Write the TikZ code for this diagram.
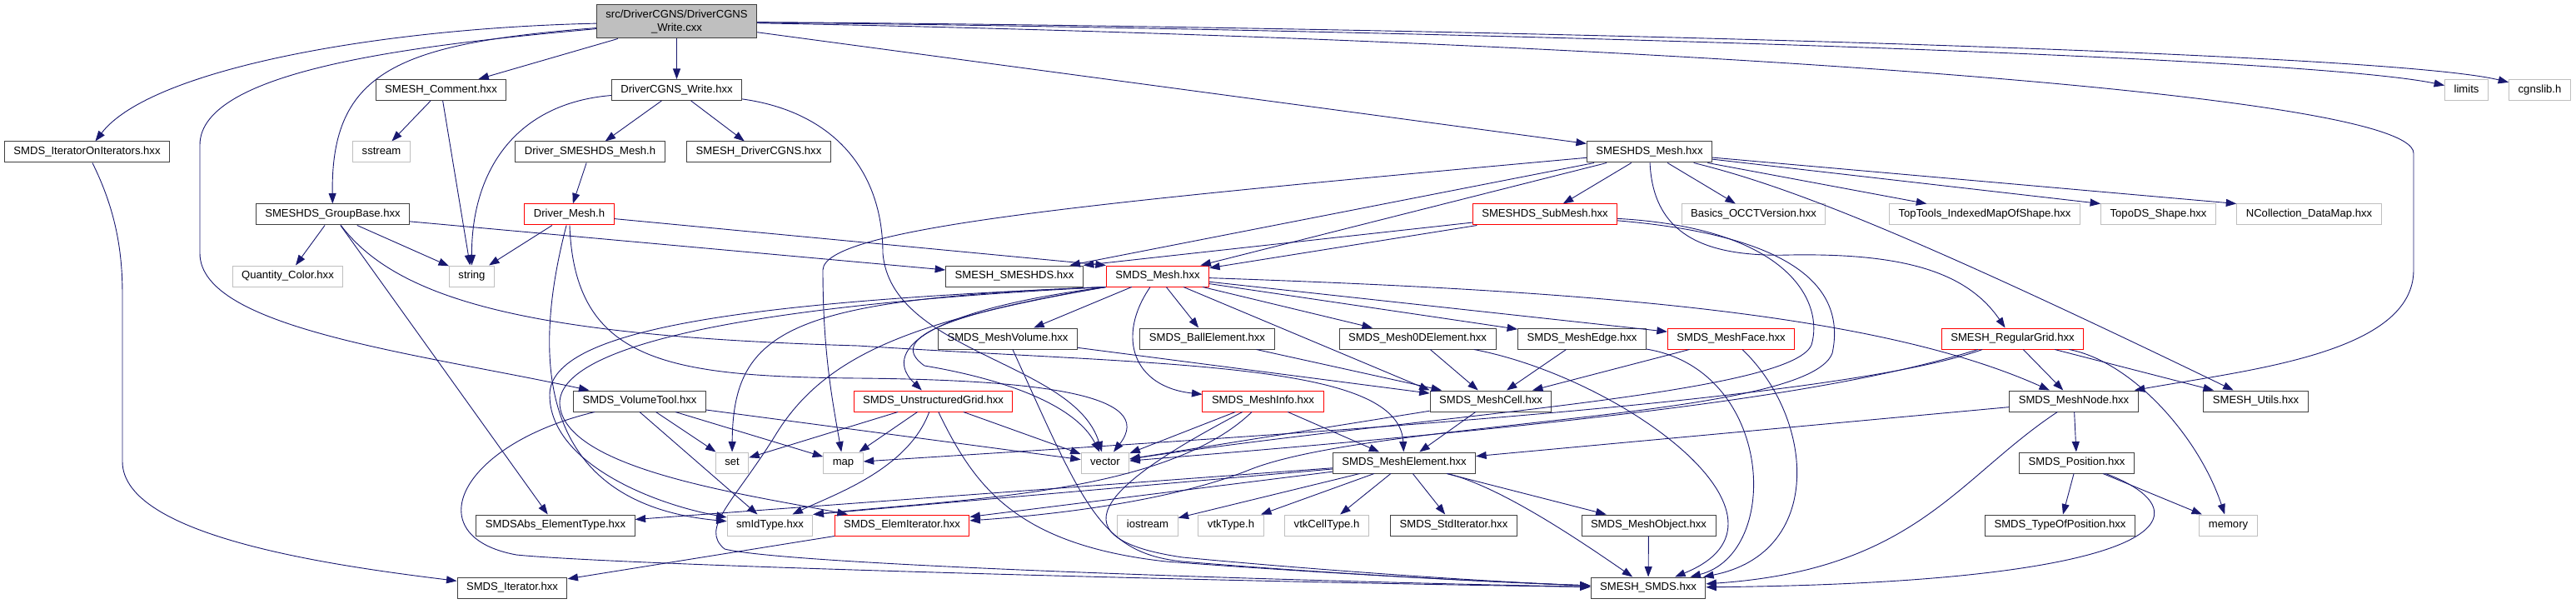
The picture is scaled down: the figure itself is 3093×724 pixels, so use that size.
\documentclass[tikz,border=0pt]{standalone}
\usepackage{fontspec}
\setmainfont{Liberation Sans}
\usetikzlibrary{arrows.meta}
\definecolor{linkblue}{HTML}{191970}
\definecolor{extgray}{HTML}{BFBFBF}
\definecolor{boxgray}{HTML}{404040}
\begin{document}
\begin{tikzpicture}[x=1pt,y=1pt]
      \tikzstyle{file}=[draw=boxgray,fill=white,line width=1pt,inner xsep=11pt,inner ysep=0pt,minimum height=25pt,text height=9.5pt,text depth=2.6pt,font=\fontsize{13.1pt}{15.7pt}\selectfont]
      \tikzstyle{sysfile}=[file,draw=extgray]
      \tikzstyle{redfile}=[file,draw=red]
      \tikzstyle{rootfile}=[draw=boxgray,fill=extgray,line width=1pt,inner xsep=11pt,inner ysep=0pt,minimum height=40pt,align=center,font=\fontsize{13.1pt}{15.7pt}\selectfont]
      \tikzstyle{edge}=[draw=linkblue,line width=0.9pt,-{Triangle[length=12.5pt,width=9pt]}]
      \useasboundingbox (0,0) rectangle (3093,724);
      \node[rootfile] (Root) at (812.5,698) {src/DriverCGNS/DriverCGNS\\\_Write.cxx};
      \node[file] (Comment) at (529.5,616) {SMESH\_Comment.hxx};
      \node[file] (Write) at (812.5,616) {DriverCGNS\_Write.hxx};
      \node[sysfile] (Limits) at (2961.5,616) {limits};
      \node[sysfile] (Cgns) at (3049.5,616) {cgnslib.h};
      \node[file] (IterIter) at (104.5,541.5) {SMDS\_IteratorOnIterators.hxx};
      \node[sysfile] (Sstream) at (458,541.5) {sstream};
      \node[file] (DrvSmeshds) at (708.5,541.5) {Driver\_SMESHDS\_Mesh.h};
      \node[file] (DrvCgns) at (911,541.5) {SMESH\_DriverCGNS.hxx};
      \node[file] (DsMesh) at (1980.5,541.5) {SMESHDS\_Mesh.hxx};
      \node[file] (GroupBase) at (399.5,466.5) {SMESHDS\_GroupBase.hxx};
      \node[redfile] (DrvMesh) at (683.5,466.5) {Driver\_Mesh.h};
      \node[redfile] (SubMesh) at (1855,466.5) {SMESHDS\_SubMesh.hxx};
      \node[sysfile] (Occt) at (2105.5,466.5) {Basics\_OCCTVersion.hxx};
      \node[sysfile] (TopTools) at (2383,466.5) {TopTools\_IndexedMapOfShape.hxx};
      \node[sysfile] (TopoDS) at (2591.5,466.5) {TopoDS\_Shape.hxx};
      \node[sysfile] (NColl) at (2772.5,466.5) {NCollection\_DataMap.hxx};
      \node[sysfile] (Quantity) at (345.5,392.5) {Quantity\_Color.hxx};
      \node[sysfile] (String) at (566.5,392.5) {string};
      \node[file] (SmeshDS) at (1218,392.5) {SMESH\_SMESHDS.hxx};
      \node[redfile] (SmdsMesh) at (1390,392.5) {SMDS\_Mesh.hxx};
      \node[file] (MeshVolume) at (1210,317.5) {SMDS\_MeshVolume.hxx};
      \node[file] (Ball) at (1449.5,317.5) {SMDS\_BallElement.hxx};
      \node[file] (Mesh0D) at (1702,317.5) {SMDS\_Mesh0DElement.hxx};
      \node[file] (MeshEdge) at (1899.5,317.5) {SMDS\_MeshEdge.hxx};
      \node[redfile] (MeshFace) at (2078.5,317.5) {SMDS\_MeshFace.hxx};
      \node[redfile] (RegGrid) at (2416.5,317.5) {SMESH\_RegularGrid.hxx};
      \node[file] (VolTool) at (768,242.5) {SMDS\_VolumeTool.hxx};
      \node[redfile] (UGrid) at (1120.5,242.5) {SMDS\_UnstructuredGrid.hxx};
      \node[redfile] (MeshInfo) at (1516.5,242.5) {SMDS\_MeshInfo.hxx};
      \node[file] (MeshCell) at (1790,242.5) {SMDS\_MeshCell.hxx};
      \node[file] (MeshNode) at (2490,242.5) {SMDS\_MeshNode.hxx};
      \node[file] (Utils) at (2708.5,242.5) {SMESH\_Utils.hxx};
      \node[sysfile] (Set) at (879,168.5) {set};
      \node[sysfile] (Map) at (1012.5,168.5) {map};
      \node[sysfile] (Vector) at (1327,168.5) {vector};
      \node[file] (MeshElem) at (1686,168.5) {SMDS\_MeshElement.hxx};
      \node[file] (Position) at (2493.5,168.5) {SMDS\_Position.hxx};
      \node[file] (AbsType) at (667,93.5) {SMDSAbs\_ElementType.hxx};
      \node[sysfile] (IdType) at (924.5,93.5) {smIdType.hxx};
      \node[redfile] (ElemIter) at (1083,93.5) {SMDS\_ElemIterator.hxx};
      \node[sysfile] (Iostream) at (1378,93.5) {iostream};
      \node[sysfile] (VtkType) at (1478,93.5) {vtkType.h};
      \node[sysfile] (VtkCell) at (1593,93.5) {vtkCellType.h};
      \node[file] (StdIter) at (1745.5,93.5) {SMDS\_StdIterator.hxx};
      \node[file] (MeshObj) at (1979.5,93.5) {SMDS\_MeshObject.hxx};
      \node[file] (TypePos) at (2473.5,93.5) {SMDS\_TypeOfPosition.hxx};
      \node[sysfile] (Memory) at (2675.5,93.5) {memory};
      \node[file] (Iter) at (615,18.5) {SMDS\_Iterator.hxx};
      \node[file] (SmeshSmds) at (1979,18.5) {SMESH\_SMDS.hxx};
      % the .cxx file
      \path[edge] (Root) .. controls (450,690) and (180,640) .. (IterIter);
      \path[edge] (Root) .. controls (500,670) and (240,640) .. (240,550) -- (240,420) .. controls (240,330) and (500,300) .. (VolTool);
      \path[edge] (Root) .. controls (480,672) and (397,640) .. (GroupBase);
      \path[edge] (Root) -- (Comment);
      \path[edge] (Root) -- (Write);
      \path[edge] (Root) -- (DsMesh);
      \path[edge] (Root) .. controls (1600,690) and (2750,660) .. (Limits);
      \path[edge] (Root) .. controls (1600,693) and (2850,665) .. (Cgns);
      \path[edge] (Root) .. controls (1800,680) and (2898,620) .. (2898,540) -- (2898,400) .. controls (2898,300) and (2700,280) .. (MeshNode);
      % writer and drivers
      \path[edge] (Write) .. controls (620,600) and (566,520) .. (String);
      \path[edge] (Write) -- (DrvSmeshds);
      \path[edge] (Write) -- (DrvCgns);
      \path[edge] (Write) .. controls (1000,590) and (1060,520) .. (1060,420) .. controls (1070,300) and (1290,290) .. (Vector);
      \path[edge] (Comment) -- (Sstream);
      \path[edge] (Comment) -- (String);
      \path[edge] (IterIter) .. controls (140,470) and (147,420) .. (147,370) -- (147,170) .. controls (147,80) and (400,45) .. (Iter);
      \path[edge] (DrvSmeshds) -- (DrvMesh);
      \path[edge] (DrvMesh) -- (String);
      \path[edge] (DrvMesh) -- (SmdsMesh.north west);
      \path[edge] (DrvMesh) .. controls (640,300) and (640,120) .. (IdType);
      \path[edge] (DrvMesh) .. controls (690,290) and (800,272) .. (1030,270) .. controls (1250,268) and (1390,250) .. (Vector);
      % groups
      \path[edge] (GroupBase) -- (Quantity);
      \path[edge] (GroupBase) -- (String);
      \path[edge] (GroupBase) -- (SmeshDS);
      \path[edge] (GroupBase) -- (AbsType);
      \path[edge] (GroupBase) .. controls (480,360) and (650,320) .. (1030,309) .. controls (1400,285) and (1680,290) .. (MeshElem);
      % SMESHDS mesh
      \path[edge] (DsMesh) -- (SubMesh);
      \path[edge] (DsMesh) -- (Occt);
      \path[edge] (DsMesh) -- (TopTools);
      \path[edge] (DsMesh) -- (TopoDS.north west);
      \path[edge] (DsMesh) -- (NColl.north west);
      \path[edge] (DsMesh) -- (SmeshDS);
      \path[edge] (DsMesh) -- (SmdsMesh);
      \path[edge] (DsMesh) .. controls (1300,480) and (990,450) .. (988,400) .. controls (988,300) and (1000,240) .. (Map);
      \path[edge] (DsMesh) .. controls (1985,440) and (2050,415) .. (2150,418) .. controls (2280,420) and (2360,400) .. (RegGrid);
      \path[edge] (DsMesh) .. controls (2150,500) and (2300,440) .. (Utils);
      \path[edge] (SubMesh) -- (SmeshDS.north east);
      \path[edge] (SubMesh) -- (SmdsMesh);
      \path[edge] (SubMesh) .. controls (2150,450) and (2190,360) .. (2175,310) .. controls (2150,250) and (1700,225) .. (Vector);
      \path[edge] (SubMesh) .. controls (2170,440) and (2215,370) .. (2200,300) .. controls (2170,220) and (1650,220) .. (1500,160) .. controls (1400,120) and (1250,105) .. (ElemIter);
      % SMDS mesh
      \path[edge] (SmdsMesh) -- (MeshVolume);
      \path[edge] (SmdsMesh) -- (Ball);
      \path[edge] (SmdsMesh) -- (Mesh0D);
      \path[edge] (SmdsMesh) -- (MeshEdge);
      \path[edge] (SmdsMesh) -- (MeshFace);
      \path[edge] (SmdsMesh) -- (MeshCell.north west);
      \path[edge] (SmdsMesh) .. controls (1900,375) and (2250,350) .. (MeshNode);
      \path[edge] (SmdsMesh.south west) .. controls (1100,350) and (1060,300) .. (UGrid);
      \path[edge] (SmdsMesh) .. controls (1340,320) and (1360,260) .. (MeshInfo);
      \path[edge] (SmdsMesh.south west) .. controls (950,365) and (880,330) .. (Set);
      \path[edge] (SmdsMesh.south west) .. controls (1150,350) and (1060,320) .. (1110,285) .. controls (1200,270) and (1290,240) .. (Vector);
      \path[edge] (SmdsMesh.south west) .. controls (900,362) and (660,330) .. (660,250) .. controls (660,170) and (780,120) .. (IdType);
      \path[edge] (SmdsMesh.south west) .. controls (900,358) and (672,310) .. (672,240) .. controls (675,160) and (900,130) .. (ElemIter);
      \path[edge] (SmdsMesh.south west) .. controls (1100,340) and (990,300) .. (930,200) .. controls (880,120) and (840,90) .. (870,65) .. controls (950,45) and (1600,25) .. (SmeshSmds);
      % cells
      \path[edge] (MeshVolume) -- (MeshCell);
      \path[edge] (MeshVolume) .. controls (1300,120) and (1320,60) .. (1420,50) .. controls (1600,35) and (1800,25) .. (SmeshSmds);
      \path[edge] (Ball) -- (MeshCell);
      \path[edge] (Mesh0D) -- (MeshCell);
      \path[edge] (Mesh0D) .. controls (1950,270) and (2180,100) .. (SmeshSmds);
      \path[edge] (MeshEdge) -- (MeshCell);
      \path[edge] (MeshEdge) .. controls (2130,280) and (2140,60) .. (SmeshSmds);
      \path[edge] (MeshFace) -- (MeshCell);
      \path[edge] (MeshFace) .. controls (2180,220) and (2190,60) .. (SmeshSmds);
      % tools and grids
      \path[edge] (VolTool) -- (Set);
      \path[edge] (VolTool) -- (Map);
      \path[edge] (VolTool) -- (Vector);
      \path[edge] (VolTool.south) -- (IdType);
      \path[edge] (VolTool) .. controls (550,190) and (500,80) .. (620,58) .. controls (750,45) and (1500,25) .. (SmeshSmds);
      \path[edge] (UGrid) -- (Set);
      \path[edge] (UGrid) -- (Map);
      \path[edge] (UGrid) -- (Vector);
      \path[edge] (UGrid) .. controls (1090,160) and (1000,130) .. (IdType);
      \path[edge] (UGrid) .. controls (1170,140) and (1220,70) .. (1400,50) .. controls (1600,35) and (1800,25) .. (SmeshSmds);
      \path[edge] (MeshInfo) -- (Vector);
      \path[edge] (MeshInfo) -- (MeshElem);
      \path[edge] (MeshInfo) .. controls (1400,130) and (1150,125) .. (IdType.north east);
      \path[edge] (MeshInfo) .. controls (1340,150) and (1250,80) .. (1420,55) .. controls (1600,38) and (1800,25) .. (SmeshSmds);
      \path[edge] (MeshCell) -- (MeshElem);
      \path[edge] (MeshCell) -- (Vector);
      % elements
      \path[edge] (MeshElem) -- (AbsType);
      \path[edge] (MeshElem) -- (IdType.north east);
      \path[edge] (MeshElem) -- (ElemIter);
      \path[edge] (MeshElem) -- (Iostream);
      \path[edge] (MeshElem) -- (VtkType);
      \path[edge] (MeshElem) -- (VtkCell);
      \path[edge] (MeshElem) -- (StdIter);
      \path[edge] (MeshElem) -- (MeshObj);
      \path[edge] (MeshElem) .. controls (1800,140) and (1890,80) .. (SmeshSmds);
      \path[edge] (MeshNode) -- (MeshElem);
      \path[edge] (MeshNode) -- (Position);
      \path[edge] (MeshNode) .. controls (2350,150) and (2300,40) .. (SmeshSmds);
      \path[edge] (RegGrid) -- (MeshNode);
      \path[edge] (RegGrid) -- (Utils);
      \path[edge] (RegGrid) .. controls (2560,290) and (2640,200) .. (Memory);
      \path[edge] (RegGrid) .. controls (2200,250) and (1900,215) .. (Vector);
      \path[edge] (RegGrid) .. controls (2200,240) and (1500,200) .. (Map);
      \path[edge] (Position) -- (TypePos);
      \path[edge] (Position) -- (Memory);
      \path[edge] (Position) .. controls (2650,110) and (2620,25) .. (SmeshSmds);
      \path[edge] (MeshObj) -- (SmeshSmds);
      \path[edge] (ElemIter) -- (Iter);
    \end{tikzpicture}
\end{document}
